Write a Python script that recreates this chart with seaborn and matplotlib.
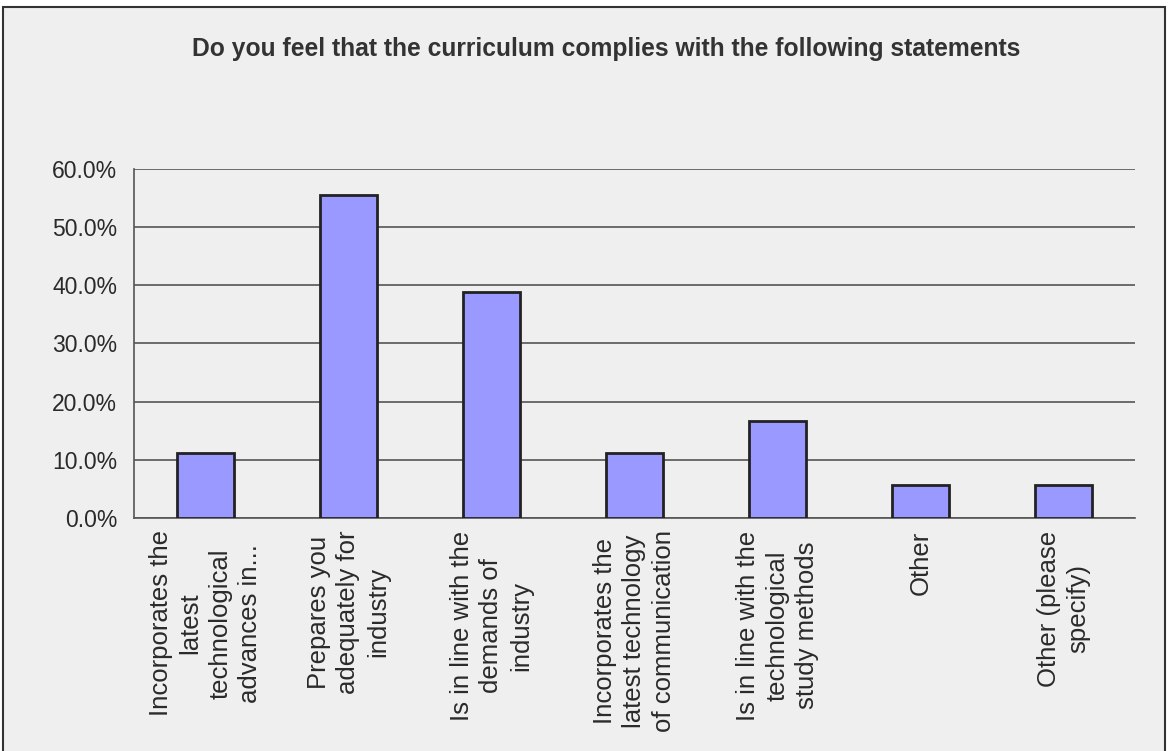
import matplotlib
matplotlib.use("Agg")
import matplotlib.pyplot as plt
import matplotlib.patches as patches
from matplotlib.ticker import FuncFormatter, MultipleLocator, FixedLocator
import seaborn as sns
import pandas as pd

categories = [
    "Incorporates the\nlatest\ntechnological\nadvances in...",
    "Prepares you\nadequately for\nindustry",
    "Is in line with the\ndemands of\nindustry",
    "Incorporates the\nlatest technology\nof communication",
    "Is in line with the\ntechnological\nstudy methods",
    "Other",
    "Other (please\nspecify)",
]
shares = [0.111, 0.556, 0.389, 0.111, 0.167, 0.056, 0.056]
title = "Do you feel that the curriculum complies with the following statements"

df = pd.DataFrame({"statement": categories, "share": shares})

sns.set_style("white")
plt.rcParams["font.family"] = ["Liberation Sans", "DejaVu Sans"]

fig = plt.figure(figsize=(11.71, 7.51), dpi=100, facecolor="white")
# grey chart area with a dark frame, as in the spreadsheet export
fig.patches.append(patches.Rectangle((3 / 1171, -0.02), 1162 / 1171, 1.02 - 7 / 751,
                                     transform=fig.transFigure, facecolor="#efefef",
                                     edgecolor="#333333", linewidth=1.5, zorder=-10))
ax = fig.add_axes([134 / 1171, 1 - 518 / 751, 1001 / 1171, 349 / 751])
ax.set_facecolor("#efefef")

sns.barplot(data=df, x="statement", y="share", color="#9999ff", width=0.4,
            edgecolor="#222222", linewidth=2, saturation=1, ax=ax, zorder=3)

ax.set_ylim(0, 0.6)
ax.set_xlim(-0.5, len(categories) - 0.5)
ax.yaxis.set_major_locator(MultipleLocator(0.1))
ax.yaxis.set_major_formatter(FuncFormatter(lambda v, _: f"{v * 100:.1f}%"))
ax.grid(axis="y", color="#555555", linewidth=1.2, zorder=0)
ax.set_axisbelow(True)

for s in ["top", "right"]:
    ax.spines[s].set_visible(False)
for s in ["left", "bottom"]:
    ax.spines[s].set_color("#555555")
    ax.spines[s].set_linewidth(1.2)

# ticks between the categories
ax.xaxis.set_minor_locator(FixedLocator([i - 0.5 for i in range(len(categories) + 1)]))
ax.tick_params(axis="x", which="major", length=0, pad=9)
ax.tick_params(axis="x", which="minor", length=8, width=1.2, color="#555555", direction="out")
ax.tick_params(axis="y", length=8, width=1.2, color="#555555", direction="out", pad=4)
for lbl in ax.get_xticklabels():
    lbl.set_rotation(90)
    lbl.set_multialignment("center")
    lbl.set_linespacing(1.3)
    lbl.set_fontsize(18.5)
    lbl.set_color("#2a2a2a")
for lbl in ax.get_yticklabels():
    lbl.set_fontsize(16.5)
    lbl.set_color("#2a2a2a")
ax.set_xlabel("")
ax.set_ylabel("")

fig.text(0.518, 0.935, title, ha="center", va="center", fontsize=17.7,
         fontweight="bold", color="#333333")

fig.savefig("out.png", dpi=100, facecolor=fig.get_facecolor())
